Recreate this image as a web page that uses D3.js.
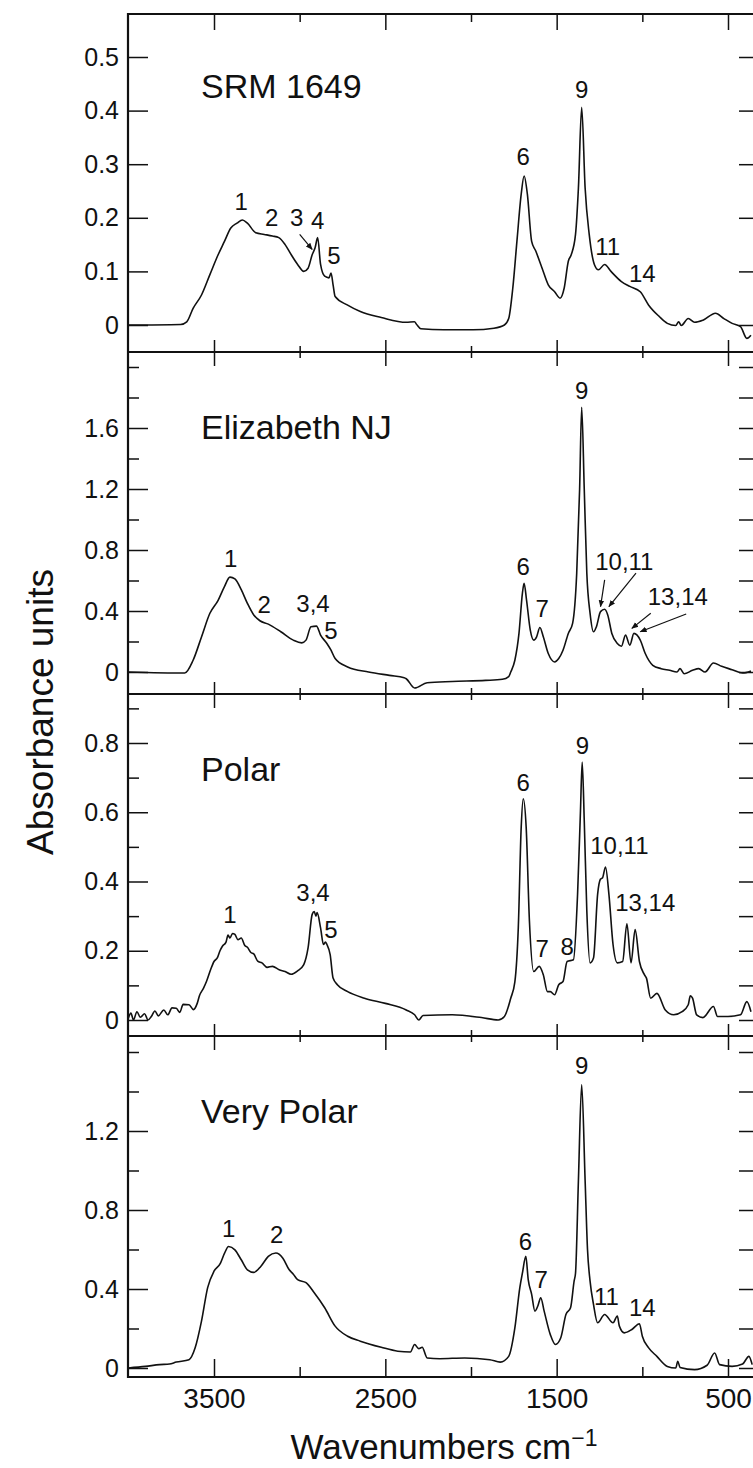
<!DOCTYPE html>
<html>
<head>
<meta charset="utf-8">
<script src="https://cdn.jsdelivr.net/npm/d3@7"></script>
<style>
  body { margin: 0; background: #fff; }
  text { font-family: "Liberation Sans", Arial, Helvetica, sans-serif; fill: #111; }
</style>
</head>
<body>
<svg id="chart" width="753" height="1468"></svg>
<script>
// spectra: [wavenumber cm-1, absorbance]
const srm1649 = [
  [4000,0],[3695,0.001],[3659,0.006],[3622,0.031],[3573,0.056],[3524,0.094],[3476,0.131],[3439,0.156],
  [3402,0.181],[3366,0.19],[3334,0.196],[3305,0.19],[3256,0.172],[3207,0.169],[3159,0.166],[3122,0.163],
  [3085,0.15],[3049,0.131],[3012,0.113],[2976,0.1],[2951,0.106],[2927,0.131],[2910,0.144],[2895,0.163],
  [2878,0.113],[2854,0.091],[2829,0.088],[2817,0.097],[2805,0.075],[2793,0.053],[2720,0.037],[2646,0.025],
  [2524,0.014],[2378,0.005],[2330,0.006],[2317,0.001],[2293,-0.007],[2159,-0.009],[1988,-0.009],[1866,-0.006],
  [1805,0],[1780,0.012],[1756,0.069],[1732,0.156],[1707,0.244],[1690,0.278],[1671,0.244],[1646,0.156],
  [1622,0.138],[1585,0.106],[1549,0.075],[1512,0.062],[1480,0.05],[1456,0.069],[1432,0.119],[1415,0.131],
  [1390,0.169],[1373,0.256],[1354,0.406],[1334,0.256],[1310,0.169],[1280,0.113],[1256,0.103],[1220,0.113],
  [1183,0.1],[1122,0.081],[1073,0.072],[1012,0.062],[963,0.037],[902,0.016],[854,0.003],[805,-0.001],
  [788,0.006],[773,-0.001],[732,0.012],[695,0.005],[646,0.009],[573,0.022],[524,0.012],[476,0.003],
  [427,-0.003],[390,-0.025],[366,-0.019]
];
const elizabethNJ = [
  [4000,0],[3671,-0.007],[3622,0.077],[3573,0.23],[3524,0.385],[3476,0.47],[3439,0.56],[3407,0.622],
  [3378,0.61],[3341,0.54],[3305,0.45],[3268,0.374],[3232,0.336],[3183,0.314],[3110,0.264],[3037,0.209],
  [2988,0.191],[2963,0.209],[2934,0.297],[2902,0.301],[2878,0.242],[2841,0.187],[2817,0.143],[2793,0.088],
  [2720,0.033],[2598,0],[2476,-0.022],[2390,-0.037],[2378,-0.044],[2329,-0.105],[2256,-0.07],[2110,-0.062],
  [1915,-0.055],[1817,-0.048],[1780,-0.03],[1768,0],[1744,0.077],[1720,0.253],[1700,0.516],[1690,0.582],
  [1676,0.473],[1654,0.275],[1634,0.209],[1617,0.231],[1598,0.292],[1578,0.231],[1549,0.121],[1512,0.066],
  [1488,0.088],[1463,0.143],[1432,0.253],[1407,0.319],[1383,0.648],[1366,1.2],[1354,1.736],[1339,1.2],
  [1324,0.648],[1305,0.385],[1285,0.264],[1268,0.297],[1244,0.396],[1220,0.411],[1202,0.374],[1178,0.253],
  [1146,0.187],[1122,0.169],[1098,0.242],[1073,0.176],[1049,0.253],[1012,0.209],[983,0.121],[939,0.044],
  [890,0.022],[841,0.011],[798,0],[780,0.022],[756,-0.011],[707,0.011],[671,0.022],[634,0],[585,0.059],
  [537,0.037],[476,0.015],[415,-0.007],[366,0.007]
];
const polar = [
  [4000,0.005],[3985,0.02],[3970,0],[3950,0.024],[3930,0.008],[3905,0.018],[3885,0],[3866,0.01],
  [3845,0.026],[3825,0.012],[3793,0.029],[3770,0.015],[3745,0.035],[3720,0.034],[3700,0.022],[3680,0.045],
  [3646,0.044],[3620,0.03],[3598,0.048],[3585,0.07],[3561,0.092],[3544,0.111],[3520,0.145],[3500,0.169],
  [3480,0.18],[3465,0.2],[3451,0.213],[3430,0.225],[3418,0.245],[3407,0.237],[3392,0.25],[3378,0.247],
  [3360,0.232],[3341,0.237],[3320,0.215],[3305,0.21],[3285,0.195],[3268,0.191],[3245,0.17],[3220,0.165],
  [3190,0.152],[3159,0.155],[3120,0.145],[3085,0.14],[3050,0.132],[3012,0.142],[2976,0.16],[2951,0.208],
  [2927,0.305],[2915,0.313],[2905,0.3],[2898,0.31],[2878,0.266],[2861,0.218],[2850,0.225],[2841,0.218],
  [2822,0.189],[2805,0.121],[2780,0.102],[2720,0.082],[2622,0.063],[2500,0.048],[2378,0.029],[2329,0.015],
  [2305,0],[2280,0.013],[2110,0.015],[1939,0.007],[1841,0],[1805,0.01],[1768,0.063],[1744,0.11],
  [1724,0.266],[1707,0.557],[1695,0.639],[1678,0.557],[1659,0.286],[1634,0.14],[1602,0.155],[1578,0.131],
  [1554,0.082],[1537,0.082],[1512,0.073],[1488,0.102],[1463,0.111],[1439,0.169],[1402,0.174],[1378,0.363],
  [1361,0.605],[1351,0.745],[1339,0.576],[1324,0.315],[1305,0.165],[1285,0.179],[1261,0.363],[1244,0.407],
  [1232,0.411],[1215,0.442],[1195,0.363],[1171,0.218],[1146,0.165],[1115,0.169],[1090,0.278],[1066,0.165],
  [1042,0.261],[1017,0.169],[988,0.131],[976,0.121],[951,0.063],[915,0.077],[866,0.029],[817,0.015],
  [768,0.024],[732,0.044],[720,0.07],[707,0.063],[683,0.015],[646,0.007],[585,0.039],[561,0.01],
  [500,0.01],[427,0.015],[390,0.053],[366,0.024]
];
const veryPolar = [
  [4000,0],[3900,0.008],[3817,0.017],[3760,0.02],[3720,0.03],[3646,0.042],[3610,0.102],[3573,0.237],
  [3537,0.407],[3500,0.49],[3463,0.53],[3439,0.58],[3415,0.615],[3378,0.598],[3341,0.548],[3305,0.497],
  [3268,0.484],[3227,0.514],[3183,0.565],[3139,0.582],[3098,0.556],[3061,0.497],[3037,0.475],[3012,0.447],
  [2963,0.432],[2915,0.381],[2854,0.305],[2793,0.212],[2720,0.161],[2646,0.136],[2524,0.105],[2427,0.085],
  [2354,0.081],[2329,0.119],[2305,0.098],[2285,0.105],[2256,0.051],[2183,0.047],[2037,0.051],[1890,0.042],
  [1829,0.03],[1780,0.059],[1744,0.203],[1715,0.407],[1700,0.48],[1680,0.565],[1666,0.447],[1646,0.373],
  [1627,0.288],[1610,0.314],[1593,0.356],[1573,0.288],[1537,0.169],[1507,0.119],[1476,0.153],[1446,0.271],
  [1419,0.305],[1398,0.441],[1390,0.48],[1373,0.951],[1354,1.435],[1334,0.951],[1320,0.6],[1305,0.44],
  [1285,0.322],[1261,0.229],[1220,0.271],[1171,0.229],[1146,0.263],[1134,0.212],[1105,0.178],[1061,0.195],
  [1017,0.224],[1000,0.161],[963,0.102],[915,0.059],[854,0.008],[805,0],[793,0.034],[780,0.003],
  [695,-0.008],[622,0.014],[578,0.076],[549,0.017],[476,0.008],[415,0.02],[378,0.059],[359,0.017]
];

// peak labels: [text, wavenumber, absorbance] (label centre)
const srmLabels = [["1",3341,0.231],["2",3163,0.2],["3",3017,0.2],["4",2895,0.195],["5",2800,0.13],
  ["6",1695,0.314],["9",1354,0.439],["11",1202,0.147],["14",1000,0.097]];
const elizLabels = [["1",3402,0.747],["2",3207,0.44],["3,4",2922,0.45],["5",2817,0.275],["6",1695,0.692],
  ["7",1585,0.418],["9",1354,1.846],["10,11",1105,0.725],["13,14",793,0.495]];
const polarLabels = [["1",3407,0.305],["3,4",2922,0.368],["5",2817,0.261],["6",1695,0.687],["7",1585,0.206],
  ["8",1439,0.213],["9",1349,0.794],["10,11",1134,0.503],["13,14",983,0.339]];
const veryPolarLabels = [["1",3415,0.708],["2",3134,0.674],["6",1683,0.64],["7",1590,0.449],["9",1354,1.531],
  ["11",1210,0.364],["14",1000,0.305]];

// arrows: [from wn, from abs, to wn, to abs]
const srmArrows = [[3000,0.169,2927,0.141]];
const elizArrows = [[1220,0.604,1244,0.429],[1037,0.648,1195,0.429],[951,0.385,1061,0.286],[744,0.38,1012,0.264]];

// axes
const yTickValues = [
  [0,0.1,0.2,0.3,0.4,0.5],
  [0,0.2,0.4,0.6,0.8,1.0,1.2,1.4,1.6,1.8,2.0],
  [0,0.1,0.2,0.3,0.4,0.5,0.6,0.7,0.8,0.9],
  [0,0.2,0.4,0.6,0.8,1.0,1.2,1.4,1.6]
];
const yTickLabels = [
  ["0","0.1","0.2","0.3","0.4","0.5"],
  ["0","0.4","0.8","1.2","1.6"],
  ["0","0.2","0.4","0.6","0.8"],
  ["0","0.4","0.8","1.2"]
];
const xMajorTicks = [3500, 2500, 1500, 500];
const xMinorTicks = [3000, 2000, 1000];
const xTickLabels = ["3500", "2500", "1500", "500"];
const panelNames = ["SRM 1649", "Elizabeth NJ", "Polar", "Very Polar"];

const svg = d3.select("#chart");
const left = 128, right = 754;

const x = d3.scaleLinear().domain([3500, 500]).range([214, 728]);

// pixel layout of each panel
const layout = [
  { top: 14,   bottom: 352,  zeroY: 325,  refV: 0.5, refY: 57 },
  { top: 352,  bottom: 694,  zeroY: 672,  refV: 1.6, refY: 428 },
  { top: 694,  bottom: 1036, zeroY: 1020, refV: 0.8, refY: 743 },
  { top: 1036, bottom: 1377, zeroY: 1368, refV: 1.2, refY: 1131 }
];
const spectra = [srm1649, elizabethNJ, polar, veryPolar];
const peakLabels = [srmLabels, elizLabels, polarLabels, veryPolarLabels];
const arrows = [srmArrows, elizArrows, [], []];

svg.append("defs").append("marker")
  .attr("id", "head")
  .attr("viewBox", "0 0 10 10")
  .attr("refX", 9).attr("refY", 5)
  .attr("markerWidth", 7).attr("markerHeight", 7)
  .attr("markerUnits", "userSpaceOnUse")
  .attr("orient", "auto")
  .append("path").attr("d", "M0,1 L10,5 L0,9 Z").attr("fill", "#111");

layout.forEach((p, i) => {
  const y = d3.scaleLinear().domain([0, p.refV]).range([p.zeroY, p.refY]);
  const g = svg.append("g");

  g.append("clipPath").attr("id", "clip" + i)
    .append("rect")
    .attr("x", left).attr("y", p.top)
    .attr("width", right - left).attr("height", p.bottom - p.top);

  const line = d3.line()
    .x(d => x(d[0]))
    .y(d => y(d[1]))
    .curve(d3.curveMonotoneX);

  g.append("path")
    .datum(spectra[i])
    .attr("clip-path", "url(#clip" + i + ")")
    .attr("d", line)
    .attr("fill", "none")
    .attr("stroke", "#111")
    .attr("stroke-width", 1.6)
    .attr("stroke-linejoin", "round");

  // left ticks: minor then labelled
  const labelled = yTickLabels[i].map(Number);
  const minor = yTickValues[i].filter(v => !labelled.some(l => Math.abs(l - v) < 1e-9));
  g.append("g").attr("transform", `translate(${left},0)`)
    .call(d3.axisLeft(y).tickValues(minor).tickSize(-11).tickFormat(""));
  g.append("g").attr("class", "ylab").attr("transform", `translate(${left},0)`)
    .call(d3.axisLeft(y).tickValues(labelled).tickSize(-20).tickPadding(9)
      .tickFormat((d, k) => yTickLabels[i][k]));
  // right ticks
  g.append("g").attr("transform", `translate(${right},0)`)
    .call(d3.axisRight(y).tickValues(yTickValues[i]).tickSize(-15).tickFormat(""));

  g.selectAll(".ylab text").style("font-size", "25px");

  // panel title
  g.append("text")
    .attr("x", 201).attr("y", p.top + (i === 0 ? 84 : 87))
    .style("font-size", "34px")
    .text(panelNames[i]);

  // peak labels
  g.selectAll(".peak").data(peakLabels[i]).enter().append("text")
    .attr("x", d => x(d[1]))
    .attr("y", d => y(d[2]))
    .attr("text-anchor", "middle")
    .attr("dominant-baseline", "central")
    .style("font-size", "24px")
    .text(d => d[0]);

  g.selectAll(".arrow").data(arrows[i]).enter().append("line")
    .attr("x1", d => x(d[0])).attr("y1", d => y(d[1]))
    .attr("x2", d => x(d[2])).attr("y2", d => y(d[3]))
    .attr("stroke", "#111").attr("stroke-width", 1.2)
    .attr("marker-end", "url(#head)");

  // x ticks along the top edge of the panel
  if (i === 0) {
    g.append("g").attr("transform", `translate(0,${p.top})`)
      .call(d3.axisTop(x).tickValues(xMajorTicks).tickSize(-16).tickFormat(""));
    g.append("g").attr("transform", `translate(0,${p.top})`)
      .call(d3.axisTop(x).tickValues(xMinorTicks).tickSize(-8).tickFormat(""));
  } else {
    g.append("g").attr("transform", `translate(0,${p.top})`)
      .call(d3.axisTop(x).tickValues(xMajorTicks).tickSize(12).tickFormat(""));
    g.append("g").attr("transform", `translate(0,${p.top})`)
      .call(d3.axisTop(x).tickValues(xMinorTicks).tickSize(6).tickFormat(""));
    g.append("g").attr("transform", `translate(0,${p.top})`)
      .call(d3.axisBottom(x).tickValues(xMajorTicks).tickSize(14).tickFormat(""));
    g.append("g").attr("transform", `translate(0,${p.top})`)
      .call(d3.axisBottom(x).tickValues(xMinorTicks).tickSize(6).tickFormat(""));
  }
  if (i === layout.length - 1) {
    const xa = g.append("g").attr("class", "xlab").attr("transform", `translate(0,${p.bottom})`)
      .call(d3.axisBottom(x).tickValues(xMajorTicks).tickSize(-18).tickPadding(11)
        .tickFormat((d, k) => xTickLabels[k]));
    xa.selectAll("text").style("font-size", "28px");
    g.append("g").attr("transform", `translate(0,${p.bottom})`)
      .call(d3.axisBottom(x).tickValues(xMinorTicks).tickSize(-10).tickFormat(""));
  }
});

// frame: left edge and horizontal borders
svg.selectAll(".domain").remove();
svg.selectAll(".tick line").attr("stroke", "#111").attr("stroke-width", 1.5);
const borders = [14, 352, 694, 1036, 1377];
svg.selectAll(".hborder").data(borders).enter().append("line")
  .attr("x1", left - 1).attr("x2", right).attr("y1", d => d).attr("y2", d => d)
  .attr("stroke", "#111").attr("stroke-width", 2);
svg.append("line")
  .attr("x1", left).attr("x2", left).attr("y1", 13).attr("y2", 1378)
  .attr("stroke", "#111").attr("stroke-width", 2.2);

// axis titles
svg.append("text")
  .attr("transform", "translate(53,712) rotate(-90)")
  .attr("text-anchor", "middle")
  .style("font-size", "37px")
  .text("Absorbance units");

const xt = svg.append("text")
  .attr("x", 444).attr("y", 1459)
  .attr("text-anchor", "middle")
  .style("font-size", "35px");
xt.append("tspan").text("Wavenumbers cm");
xt.append("tspan").attr("dy", -13).style("font-size", "23px").text("\u22121");
</script>
</body>
</html>
